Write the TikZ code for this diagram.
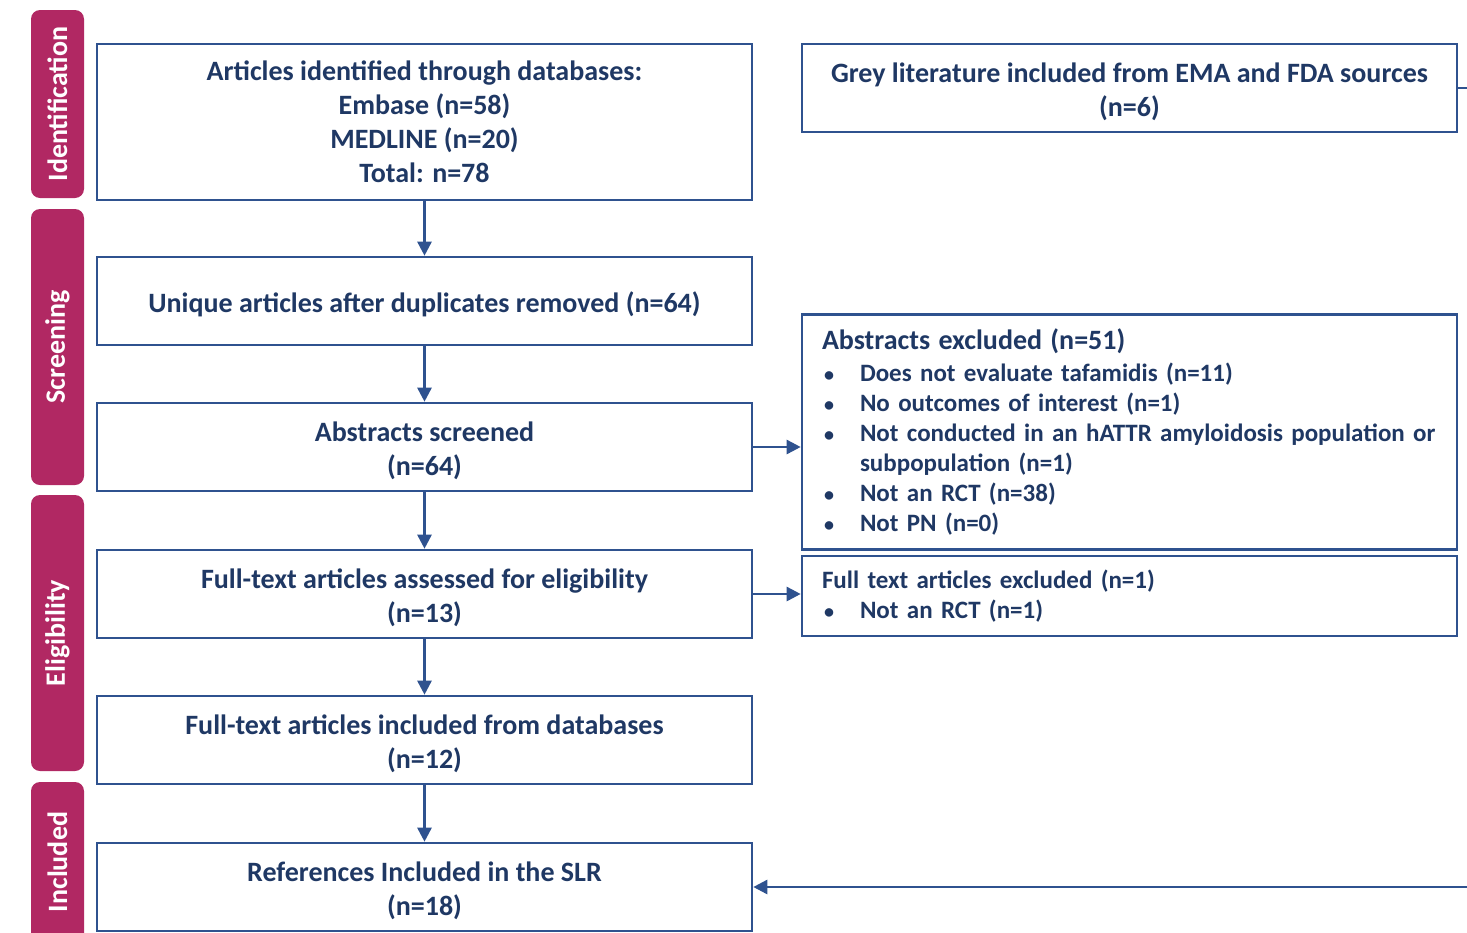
\documentclass[tikz,border=0pt]{standalone}
\usepackage{fontspec}
\setmainfont{Carlito}
\usetikzlibrary{arrows.meta}
\definecolor{barc}{RGB}{177,40,99}
\definecolor{linec}{RGB}{47,82,143}
\definecolor{txtc}{RGB}{31,56,100}
\newcommand\bitem{\makebox[38pt][l]{\hspace{2pt}{\fontsize{20}{20}\selectfont\textbullet}}}
\newcommand\lowtxt[1]{\raisebox{-5pt}[\height][\depth]{\begin{tabular}{@{}c@{}}#1\end{tabular}}}
\begin{document}
\begin{tikzpicture}[x=1pt,y=-1pt,
  bar/.style={fill=barc, rounded corners=9pt, draw=none, rotate=90, text=white,
    font=\fontsize{28}{28}\selectfont\bfseries, minimum height=53pt, inner sep=0pt},
  box/.style={draw=linec, line width=2.6pt, text=txtc, fill=white,
    font=\fontsize{28}{34}\selectfont\bfseries, align=center, inner sep=0pt,
    minimum width=655pt, minimum height=88pt},
  exbox/.style={draw=linec, line width=2.6pt, text=txtc, fill=white,
    font=\fontsize{25}{30}\selectfont\bfseries, align=left, inner xsep=20pt, inner ysep=0pt,
    text width=615pt},
  arr/.style={draw=linec, line width=2.6pt, -{Triangle[length=14pt,width=14pt]}}]
\useasboundingbox (0,0) rectangle (1467,932);
\clip (0,0) rectangle (1467,932);
% side bars
\node[bar, minimum width=188pt] (idb) at (57.5,104) {Identification};
\node[bar, minimum width=276pt] (scb) at (57.5,347) {Screening};
\node[bar, minimum width=276pt] (elb) at (57.5,633) {Eligibility};
\node[bar, minimum width=160pt] (inb) at (57.5,862) {Included};
% left column
\node[box, minimum height=156pt] (b1) at (424.5,122) {Articles identified through databases:\\Embase (n=58)\\MEDLINE (n=20)\\Total: n=78};
\node[box] (b2) at (424.5,301) {\lowtxt{Unique articles after duplicates removed (n=64)}};
\node[box] (b3) at (424.5,447) {\lowtxt{Abstracts screened\\(n=64)}};
\node[box] (b4) at (424.5,594) {\lowtxt{Full-text articles assessed for eligibility\\(n=13)}};
\node[box] (b5) at (424.5,740) {\lowtxt{Full-text articles included from databases\\(n=12)}};
\node[box] (b6) at (424.5,887) {\lowtxt{References Included in the SLR\\(n=18)}};
% right column
\node[box] (grey) at (1129.5,88) {\lowtxt{Grey literature included from EMA and FDA sources\\(n=6)}};
\node[exbox, minimum height=235pt] (abs) at (1129.5,432) {{\fontsize{28}{30}\selectfont Abstracts excluded (n=51)}\\[2pt]
\bitem Does not evaluate tafamidis (n=11)\\
\bitem No outcomes of interest (n=1)\\
\bitem Not conducted in an hATTR amyloidosis population or\\
\hspace*{38pt}subpopulation (n=1)\\
\bitem Not an RCT (n=38)\\
\bitem Not PN (n=0)};
\node[exbox, minimum height=80pt] (full) at (1129.5,596) {Full text articles excluded (n=1)\\
\bitem Not an RCT (n=1)};
% connectors
\draw[arr] (b1) -- (b2);
\draw[arr] (b2) -- (b3);
\draw[arr] (b3) -- (b4);
\draw[arr] (b4) -- (b5);
\draw[arr] (b5) -- (b6);
\draw[arr] (b3.east) -- (b3.east -| abs.west);
\draw[arr] (b4.east) -- (b4.east -| full.west);
\coordinate (gr) at (1485,88);
\draw[arr] (grey.east) -- (gr) |- (b6.east);
\end{tikzpicture}
\end{document}
